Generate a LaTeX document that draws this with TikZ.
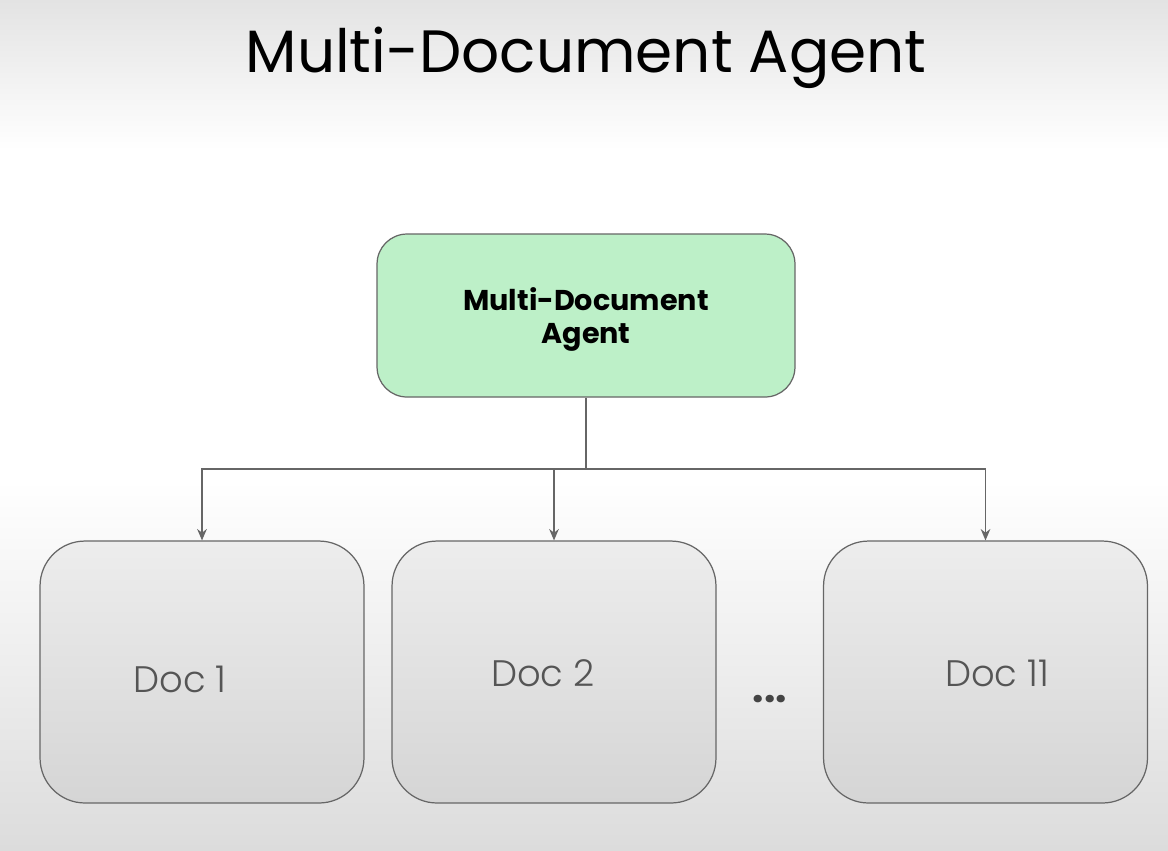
\documentclass[tikz,border=0pt]{standalone}
\usepackage{fontspec}
\setmainfont{Poppins}
\newfontfamily\poplight{Poppins}[UprightFont={* Light}]
\usepackage{tikz}
\usetikzlibrary{arrows.meta,shapes,backgrounds}
\definecolor{agentgreen}{HTML}{BDF0C8}
\definecolor{edgegray}{HTML}{666666}
\definecolor{bgtop}{HTML}{E3E3E3}
\definecolor{bgbottom}{HTML}{DCDCDC}
\definecolor{doctop}{HTML}{EDEDED}
\definecolor{docbottom}{HTML}{D5D5D5}
\definecolor{doctext}{HTML}{555555}

\begin{document}
\begin{tikzpicture}[x=0.02cm,y=-0.02cm,
  box/.style={draw=edgegray,line width=0.7pt,inner sep=0pt},
  agentbox/.style={box,fill=agentgreen,rounded corners=0.6cm,
    minimum width=8.36cm,minimum height=3.26cm},
  agentlabel/.style={align=center,font=\bfseries\fontsize{16.3}{18.7}\selectfont},
  docbox/.style={box,top color=doctop,bottom color=docbottom,
    rounded corners=0.9cm,minimum width=6.48cm,minimum height=5.24cm},
  doclabel/.style={text=doctext,font=\poplight\fontsize{21}{25}\selectfont},
  link/.style={draw=edgegray,line width=0.7pt},
  >={Stealth[length=6.5pt,width=5.5pt]}]
\useasboundingbox (0,0) rectangle (1168,850);
% background
\fill[top color=bgtop,bottom color=white] (0,0) rectangle (1168,150);
\fill[white] (0,150) rectangle (1168,480);
\fill[top color=white,bottom color=bgbottom] (0,480) rectangle (1168,850);

\node[anchor=base,font=\fontsize{34}{40}\selectfont] (title) at (586,72) {Multi-Document Agent};

\node[agentbox] (a) at (586,315.5) {};
\node[agentlabel] (at) at (586,319.5) {Multi-Document\\Agent};
\node[docbox] (d1) at (202,672) {};
\node[docbox] (d2) at (554,672) {};
\node[docbox] (d11) at (985.5,672) {};
\node[doclabel] (l1) at (180,679) {Doc 1};
\node[doclabel] (l2) at (543,673) {Doc 2};
\node[doclabel] (l11) at (997,673) {Doc 11};
\node[text=doctext!80!black,font=\bfseries\fontsize{23}{26}\selectfont] (dots) at (770,699) {...};

\coordinate (s) at (586,469);
\draw[link] (a) -- (s);
\draw[link,->] (s) -| (d1);
\draw[link,->] (s) -| (d2);
\draw[link,->] (s) -| (d11);
\end{tikzpicture}
\end{document}
